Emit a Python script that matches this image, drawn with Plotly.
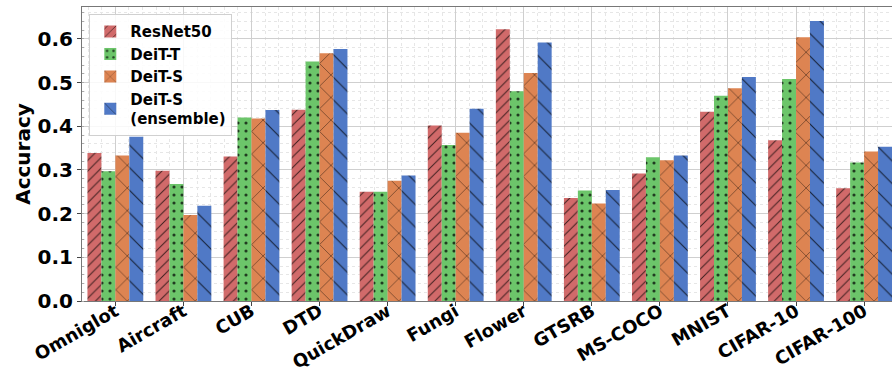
import plotly.graph_objects as go

categories = ["Omniglot", "Aircraft", "CUB", "DTD", "QuickDraw", "Fungi", "Flower",
              "GTSRB", "MS-COCO", "MNIST", "CIFAR-10", "CIFAR-100"]
resnet50 = [0.339, 0.298, 0.331, 0.438, 0.250, 0.402, 0.622, 0.236, 0.292, 0.433, 0.368, 0.258]
deit_t = [0.297, 0.268, 0.420, 0.548, 0.250, 0.357, 0.480, 0.253, 0.329, 0.470, 0.508, 0.317]
deit_s = [0.333, 0.197, 0.418, 0.567, 0.275, 0.385, 0.522, 0.223, 0.322, 0.487, 0.604, 0.342]
deit_s_ens = [0.376, 0.218, 0.437, 0.577, 0.287, 0.440, 0.592, 0.254, 0.333, 0.513, 0.641, 0.353]

series = [
    ("ResNet50", resnet50, "#d16a6a", "/", 7.5, 0.13),
    ("DeiT-T", deit_t, "#6cc56a", ".", 8, 0.12),
    ("DeiT-S", deit_s, "#dd8452", "x", 16, 0.07),
    ("DeiT-S<br>(ensemble)", deit_s_ens, "#5079c6", "\\", 16, 0.07),
]

xpos = list(range(len(categories)))
fig = go.Figure()
for name, vals, color, shape, size, sol in series:
    fig.add_trace(go.Bar(
        x=xpos, y=vals, name=name,
        marker=dict(color=color, line=dict(width=0),
                    pattern=dict(shape=shape, size=size, solidity=sol,
                                 fgcolor="black", fgopacity=0.7)),
    ))

font_family = "DejaVu Sans"
fig.update_layout(
    width=892, height=374,
    margin=dict(l=82, r=0, t=7, b=73, autoexpand=False),
    barmode="group", bargap=0.18, bargroupgap=0,
    plot_bgcolor="white", paper_bgcolor="white",
    font=dict(family=font_family, color="black"),
    showlegend=True,
    legend=dict(x=0.009, y=0.975, xanchor="left", yanchor="top",
                bgcolor="rgba(255,255,255,0.85)", bordercolor="#d0d0d0", borderwidth=1,
                font=dict(family=font_family, size=15, weight="bold"),
                tracegroupgap=0, itemwidth=30),
)
fig.update_xaxes(
    range=[-0.49, 11.41], automargin=False,
    tickmode="array", tickvals=xpos, ticktext=categories, tickangle=-30,
    tickfont=dict(family=font_family, size=18, weight="bold"),
    ticks="outside", ticklen=4, tickcolor="#444", ticklabelstandoff=-12,
    showline=True, linecolor="#777", linewidth=1, mirror=True,
    showgrid=True, gridcolor="#cfcfcf", gridwidth=1,
    minor=dict(tickmode="linear", tick0=0, dtick=0.2, showgrid=True,
               gridcolor="#e6e6e6", griddash="dot", ticks=""),
    zeroline=False,
)
fig.update_yaxes(
    range=[0, 0.673], dtick=0.1, tick0=0, tickformat=".1f", automargin=False,
    tickfont=dict(family=font_family, size=20, weight="bold"),
    ticks="outside", ticklen=4, tickcolor="#444",
    title=dict(text="Accuracy", font=dict(family=font_family, size=20, weight="bold"), standoff=1),
    showline=True, linecolor="#777", linewidth=1, mirror=True,
    showgrid=True, gridcolor="#cfcfcf", gridwidth=1,
    minor=dict(dtick=0.02, showgrid=True, gridcolor="#e6e6e6", griddash="dot",
               ticks="inside", ticklen=2, tickcolor="#aaa"),
    zeroline=False,
)
fig.write_html("out.html", config={"displayModeBar": False},
               post_script="document.body.style.margin='0';document.body.style.overflow='hidden';")
